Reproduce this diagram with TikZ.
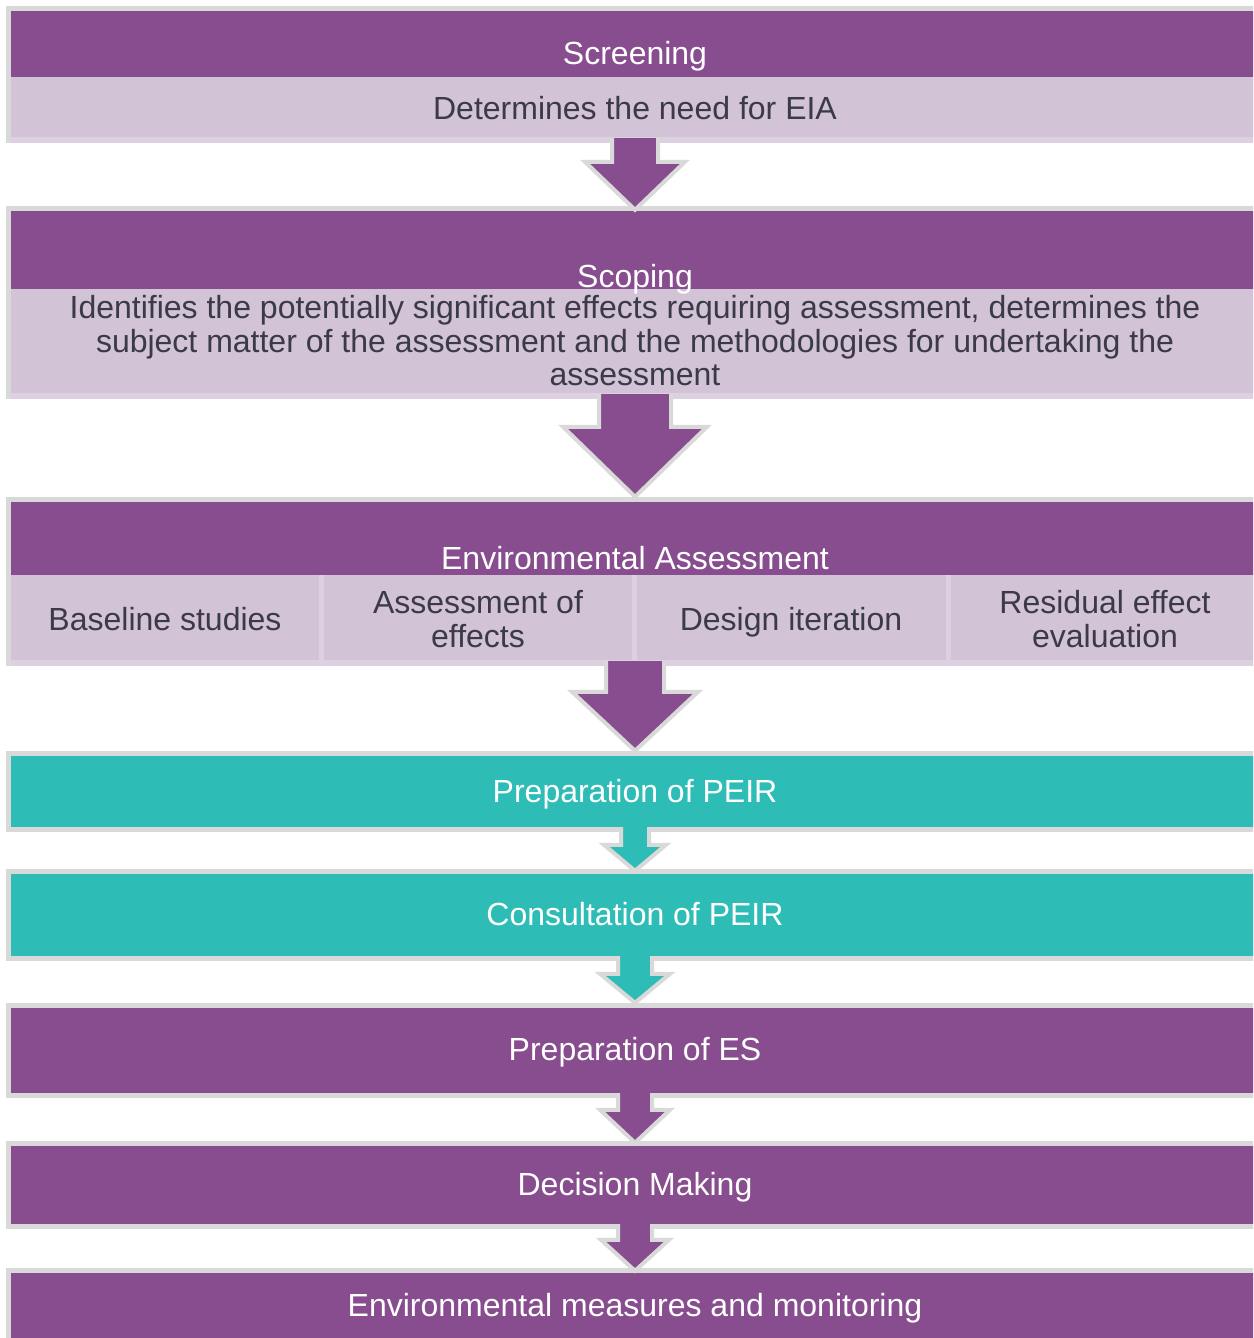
\documentclass[tikz,border=0pt]{standalone}
\usepackage{fontspec}
\setmainfont{Liberation Sans}
\usetikzlibrary{calc}
\definecolor{purp}{RGB}{135,77,142}
\definecolor{lilac}{RGB}{210,195,214}
\definecolor{lilacl}{RGB}{221,209,225}
\definecolor{tealc}{RGB}{46,189,182}
\definecolor{frameg}{RGB}{217,217,217}
\definecolor{txt}{RGB}{59,58,72}
\tikzset{
  framebox/.style={fill=frameg, draw=none, inner sep=0pt, minimum width=1258pt},
  lbl/.style={font=\fontsize{32}{33.5}\selectfont, inner sep=0pt, text=txt},
  wlbl/.style={lbl, text=white},
  arrline/.style={draw=frameg, line width=4pt, line join=miter},
  divider/.style={draw=lilacl, line width=5pt},
}
% #1 from node, #2 to node, #3 shaft half width, #4 head half width, #5 head length, #6 fill, #7 tip offset below target top
\newcommand\flowarr[7]{%
  \fill[#6] let \p1=($(#1.south)+(0,-5)$), \p2=($(#2.north)+(0,#7)$) in
    (\x1-#3pt,\y1) -- (\x1-#3pt,\y2+#5pt) -- (\x1-#4pt,\y2+#5pt) -- (\x2,\y2)
    -- (\x1+#4pt,\y2+#5pt) -- (\x1+#3pt,\y2+#5pt) -- (\x1+#3pt,\y1) -- cycle;
  \draw[arrline] let \p1=($(#1.south)+(0,-5)$), \p2=($(#2.north)+(0,#7)$) in
    (\x1-#3pt,\y1) -- (\x1-#3pt,\y2+#5pt) -- (\x1-#4pt,\y2+#5pt) -- (\x2,\y2)
    -- (\x1+#4pt,\y2+#5pt) -- (\x1+#3pt,\y2+#5pt) -- (\x1+#3pt,\y1);
}
\begin{document}
\begin{tikzpicture}[x=1pt,y=-1pt]
\useasboundingbox (0,0) rectangle (1253,1338);
\clip (0,0) rectangle (1253,1338);
\fill[white] (0,0) rectangle (1253,1338);

% frames
\node[framebox, minimum height=137pt] (screen) at (635,74.5) {};
\node[framebox, minimum height=193pt] (scope) at (635,302.5) {};
\node[framebox, minimum height=169pt] (envas) at (635,581.5) {};
\node[framebox, minimum height=81pt] (peir) at (635,791.5) {};
\node[framebox, minimum height=92pt] (consult) at (635,915) {};
\node[framebox, minimum height=95pt] (es) at (635,1050.5) {};
\node[framebox, minimum height=88pt] (decision) at (635,1185) {};
\node[framebox, minimum height=82pt] (measures) at (635,1309) {};

% inner fills
\fill[purp] (11,11) rectangle (1259,77);
\fill[lilac] (11,77) rectangle (1259,137);
\fill[lilacl] (11,137) rectangle (1264,143);

\fill[purp] (11,211) rectangle (1259,289);
\fill[lilac] (11,289) rectangle (1259,393);
\fill[lilacl] (11,393) rectangle (1264,399);

\fill[purp] (11,502) rectangle (1259,575);
\fill[lilac] (11,575) rectangle (1259,660);
\fill[lilacl] (11,660) rectangle (1264,666);
\draw[divider] (321.5,575) -- (321.5,664);
\draw[divider] (634.5,575) -- (634.5,664);
\draw[divider] (948,575) -- (948,664);

\fill[tealc] (11,756) rectangle (1259,827);
\fill[tealc] (11,874) rectangle (1259,956);
\fill[purp] (11,1008) rectangle (1259,1093);
\fill[purp] (11,1146) rectangle (1259,1224);
\fill[purp] (11,1273) rectangle (1259,1345);

% arrows
\flowarr{screen}{scope}{23}{50}{48}{purp}{4}
\flowarr{scope}{envas}{36}{72}{70}{purp}{0}
\flowarr{envas}{peir}{29}{63}{59}{purp}{0}
\flowarr{peir}{consult}{14}{31}{26}{tealc}{2}
\flowarr{consult}{es}{17}{35}{29}{tealc}{0}
\flowarr{es}{decision}{17}{35}{33}{purp}{2}
\flowarr{decision}{measures}{17}{34}{31}{purp}{3}

% labels
\node[wlbl, anchor=base] (screenT) at (635,64) {Screening};
\node[lbl, anchor=base] (screenB) at (635,119) {Determines the need for EIA};
\node[wlbl, anchor=base] (scopeT) at (635,287) {Scoping};
\node[lbl, align=center] (scopeB) at (635,341) {Identifies the potentially significant effects requiring assessment, determines the\\subject matter of the assessment and the methodologies for undertaking the\\assessment};
\node[wlbl, anchor=base] (envasT) at (635,569) {Environmental Assessment};
\node[lbl, anchor=base] (cellA) at (165,630) {Baseline studies};
\node[lbl, align=center] (cellB) at (478,619) {Assessment of\\effects};
\node[lbl, anchor=base] (cellC) at (791,630) {Design iteration};
\node[lbl, align=center] (cellD) at (1105,619) {Residual effect\\evaluation};
\node[wlbl, anchor=base] (peirT) at (635,802) {Preparation of PEIR};
\node[wlbl, anchor=base] (consultT) at (635,925) {Consultation of PEIR};
\node[wlbl, anchor=base] (esT) at (635,1060) {Preparation of ES};
\node[wlbl, anchor=base] (decisionT) at (635,1195) {Decision Making};
\node[wlbl, anchor=base] (measuresT) at (635,1316) {Environmental measures and monitoring};
\end{tikzpicture}
\end{document}
